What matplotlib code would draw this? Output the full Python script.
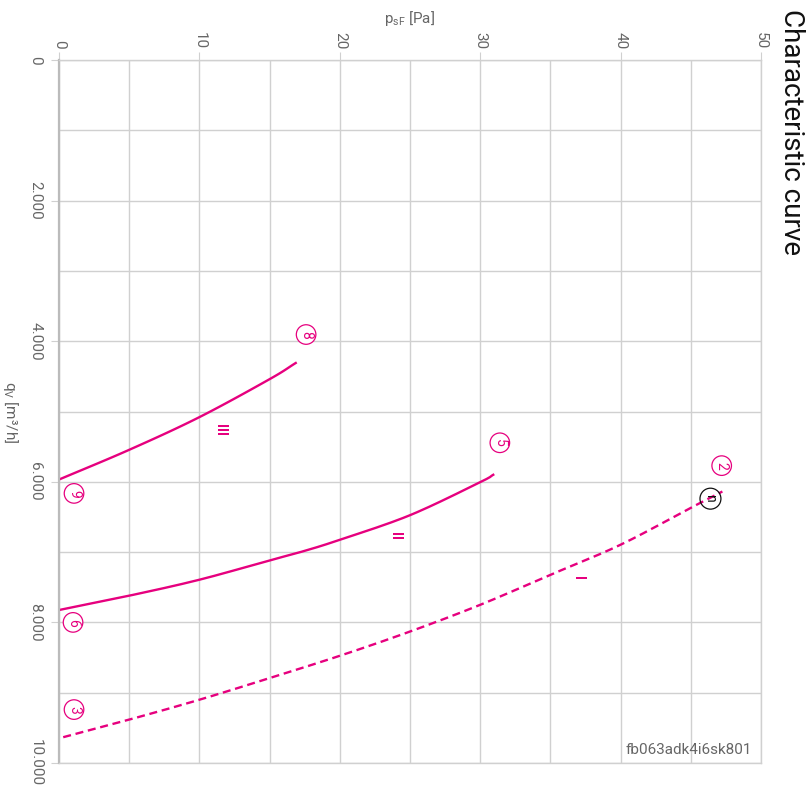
import matplotlib
matplotlib.use("Agg")
import matplotlib.pyplot as plt
import numpy as np
from matplotlib.ticker import MultipleLocator, FuncFormatter

plt.rcParams['font.family'] = ['Roboto', 'DejaVu Sans']
plt.rcParams['mathtext.fontset'] = 'custom'
plt.rcParams['mathtext.rm'] = 'Roboto'
plt.rcParams['mathtext.it'] = 'Roboto'
plt.rcParams['mathtext.default'] = 'regular'

MAG = '#e6007e'
GRID = '#d0d0d0'
TXT = '#666666'

# Data: pressure p_sF [Pa] vs flow q_V [m3/h]
curve1_p = [0.3, 5, 10, 15, 20, 25, 30, 35, 40, 45, 47.25]
curve1_q = [9633, 9383, 9100, 8792, 8475, 8130, 7750, 7323, 6895, 6370, 6138]
curve2_p = [0, 5, 10, 15, 17.5, 20, 25, 30, 30.93]
curve2_q = [7824, 7620, 7393, 7118, 6982, 6825, 6475, 6005, 5900]
curve3_p = [0, 5, 10, 15, 16.86]
curve3_q = [5968, 5545, 5080, 4540, 4310]

circle_labels = ['2', '5', '8', '9', '6', '3']
circle_p = [47.2, 31.4, 17.6, 1.07, 1.0, 1.07]
circle_q = [5770, 5445, 3905, 6165, 8000, 9240]

roman_labels = ['I', 'II', 'III']
roman_p = [36.97, 23.9, 11.5]
roman_q = [7375, 6775, 5270]

op_label = 'n'
op_p = 46.4
op_q = 6240


def smooth(xs, ys, n=20):
    """Catmull-Rom rendering through the given points."""
    x = np.asarray(xs, float)
    y = np.asarray(ys, float)
    px = np.concatenate([[2 * x[0] - x[1]], x, [2 * x[-1] - x[-2]]])
    py = np.concatenate([[2 * y[0] - y[1]], y, [2 * y[-1] - y[-2]]])
    ox, oy = [], []
    t = np.linspace(0, 1, n, endpoint=False)
    for i in range(1, len(px) - 2):
        for arr, out in ((px, ox), (py, oy)):
            p0, p1, p2, p3 = arr[i - 1], arr[i], arr[i + 1], arr[i + 2]
            out.extend(0.5 * ((2 * p1) + (-p0 + p2) * t + (2 * p0 - 5 * p1 + 4 * p2 - p3) * t ** 2
                              + (-p0 + 3 * p1 - 3 * p2 + p3) * t ** 3))
    ox.append(x[-1])
    oy.append(y[-1])
    return ox, oy


fig = plt.figure(figsize=(8.12, 7.99), dpi=100)
ax = fig.add_axes([59/812, 1-763/799, (761-59)/812, (763-60)/799])

ax.plot(*smooth(curve1_p, curve1_q), color=MAG, lw=1.7, dashes=(3.4, 2.0), solid_capstyle='butt')
ax.plot(*smooth(curve2_p, curve2_q), color=MAG, lw=1.7)
ax.plot(*smooth(curve3_p, curve3_q), color=MAG, lw=1.7)

ax.set_xlim(0, 50)
ax.set_ylim(10000, 0)

ax.xaxis.set_major_locator(MultipleLocator(10))
ax.xaxis.set_minor_locator(MultipleLocator(5))
ax.yaxis.set_major_locator(MultipleLocator(2000))
ax.yaxis.set_minor_locator(MultipleLocator(1000))
ax.yaxis.set_major_formatter(FuncFormatter(lambda v, pos: f"{int(v):,}".replace(',', '.')))
ax.xaxis.tick_top()
ax.grid(True, which='both', color=GRID, lw=1)
ax.set_axisbelow(True)
ax.tick_params(which='major', length=6, color=GRID, labelcolor=TXT, labelsize=11)
ax.tick_params(axis='x', which='major', pad=2, labelrotation=-90)
ax.tick_params(axis='y', which='major', pad=6, labelrotation=-90)
ax.tick_params(which='minor', length=0)
for lab in ax.get_yticklabels():
    lab.set_va('center')
for s in ax.spines.values():
    s.set_color(GRID)
    s.set_linewidth(1)
ax.spines['left'].set_color('#bbbbbb')
ax.spines['left'].set_linewidth(1.6)

for t, p, q in zip(circle_labels, circle_p, circle_q):
    ax.text(p, q, t, rotation=-90, color=MAG, fontsize=10, ha='center', va='center',
            rotation_mode='anchor',
            bbox=dict(boxstyle='circle,pad=0.2', fc='white', ec=MAG, lw=0.9))
for t, p, q in zip(roman_labels, roman_p, roman_q):
    ax.text(p, q, t, rotation=-90, color=MAG, fontsize=10, fontweight='bold',
            ha='center', va='center', rotation_mode='anchor')
ax.text(op_p, op_q, op_label, rotation=-90, color='#111111', fontsize=10, ha='center', va='center',
        rotation_mode='anchor',
        bbox=dict(boxstyle='circle,pad=0.25', fc='none', ec='#111111', lw=0.9))

fig.text(410/812, 1-18/799, r'p$_{sF}$ [Pa]', ha='center', va='center', color=TXT, fontsize=11)
fig.text(10/812, 1-412/799, 'q$_{V}$ [m³/h]', ha='center', va='center', rotation=-90, color=TXT, fontsize=11)
fig.text(792/812, 1-9/799, 'Characteristic curve', ha='center', va='top', rotation=-90,
         color='#111111', fontsize=20)
fig.text(752/812, 1-750/799, 'fb063adk4i6sk801', ha='right', va='center', color='#666666', fontsize=11)

fig.savefig('out.png', dpi=100)
